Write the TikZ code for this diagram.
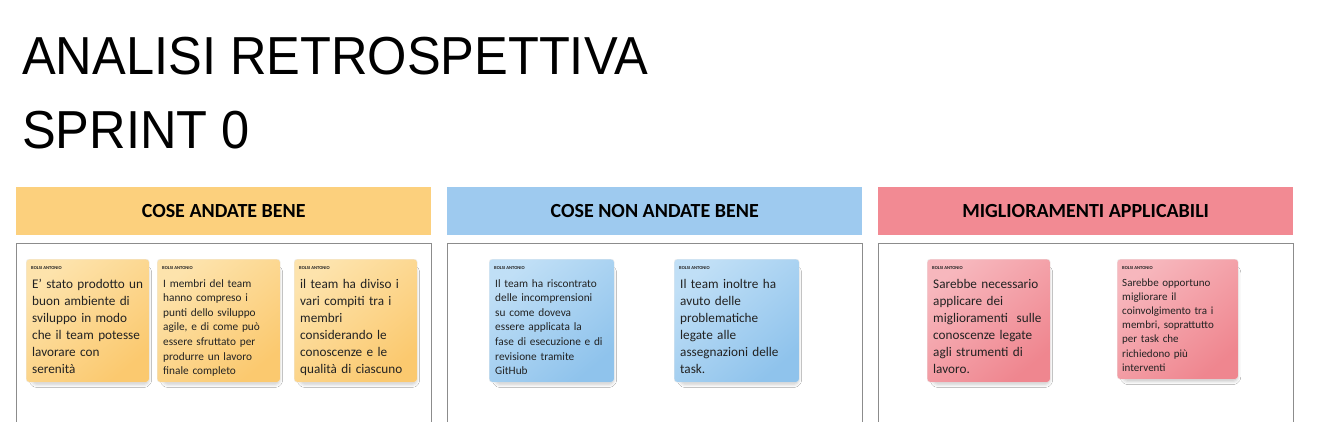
\documentclass[tikz,border=0pt]{standalone}
\usepackage{fontspec}
\setmainfont{Carlito}
\newfontfamily\titlefont{Liberation Sans}
\usetikzlibrary{positioning,shadows.blur}

\definecolor{beneband}{HTML}{FCD07D}
\definecolor{maleband}{HTML}{9ECAEF}
\definecolor{miglband}{HTML}{F28A93}
\definecolor{beneA}{HTML}{FDE3AC}
\definecolor{beneB}{HTML}{FBC96F}
\definecolor{maleA}{HTML}{C0DFF6}
\definecolor{maleB}{HTML}{8FC3EC}
\definecolor{miglA}{HTML}{F7B7BD}
\definecolor{miglB}{HTML}{EF868F}
\definecolor{notetext}{HTML}{222222}

\tikzset{
  titletext/.style={anchor=base west, inner sep=0, xscale=.945, transform shape,
    font=\titlefont\fontsize{53.5}{60}\selectfont},
  band/.style={fill=#1, anchor=north west, minimum width=415pt, minimum height=48pt,
    inner sep=0, font=\bfseries\fontsize{20}{22}\selectfont},
  colbox/.style={draw=black!45, fill=white, line width=.8pt, anchor=north west,
    minimum width=415pt, minimum height=200pt, inner sep=0},
  note/.style 2 args={anchor=north west, rounded corners=3pt, minimum width=123pt,
    minimum height=123pt, inner sep=0, top color=#1, bottom color=#2, shading angle=40,
    draw=black!8, line width=.4pt,
    blur shadow={shadow xshift=3pt, shadow yshift=-6pt, shadow opacity=35,
      shadow blur radius=5pt, shadow scale=.92}},
  author/.style={anchor=base west, inner sep=0, text=notetext,
    font=\bfseries\fontsize{4.6}{5}\selectfont},
  bigtxt/.style={anchor=base west, inner sep=0, align=left, text width=125pt,
    text=notetext, font=\fontsize{13.2}{17}\selectfont},
  smalltxt/.style={anchor=base west, inner sep=0, align=left, text width=125pt,
    text=notetext, font=\fontsize{11.3}{14.6}\selectfont}
}

\begin{document}
\begin{tikzpicture}[x=1pt,y=-1pt]
  \useasboundingbox[fill=white] (0,0) rectangle (1319,421);
  % title
  \node[titletext] (title1) at (22,74) {ANALISI RETROSPETTIVA};
  \node[titletext] (title2) at (22,148) {SPRINT 0};
  % the three columns
  \foreach \x/\name/\txt in {16/bene/COSE ANDATE BENE,
      447/male/COSE NON ANDATE BENE, 878/migl/MIGLIORAMENTI APPLICABILI} {
    \node[band=\name band] (\name-head) at (\x,187) {\txt};
    \node[colbox] (\name-box) at (\x,243) {};
  }
  % sticky notes
  \node[note={beneA}{beneB}] (bene1) at (26,259) {};
  \node[note={beneA}{beneB}] (bene2) at (157,259) {};
  \node[note={beneA}{beneB}] (bene3) at (294,259) {};
  \node[note={maleA}{maleB}, minimum width=125pt] (male1) at (489,259) {};
  \node[note={maleA}{maleB}, minimum width=125pt] (male2) at (674,259) {};
  \node[note={miglA}{miglB}] (migl1) at (927,259) {};
  \node[note={miglA}{miglB}, minimum width=121pt, minimum height=120pt] (migl2) at (1117,259) {};
  \foreach \n in {bene1,bene2,bene3,male1,male2,migl1,migl2}
    \node[author] (\n-author) at ([shift={(5,10)}]\n.north west) {BOLSI ANTONIO};
  % texts of the notes
  \node[bigtxt] (bene1-txt) at ([shift={(6,29)}]bene1.north west)
    {E' stato prodotto un\\buon ambiente di\\sviluppo in modo\\che il team potesse\\lavorare con\\serenità};
  \node[smalltxt] (bene2-txt) at ([shift={(6,28)}]bene2.north west)
    {I membri del team\\hanno compreso i\\punti dello sviluppo\\agile, e di come può\\essere sfruttato per\\produrre un lavoro\\finale completo};
  \node[bigtxt] (bene3-txt) at ([shift={(6,29)}]bene3.north west)
    {il team ha diviso i\\vari compiti tra i\\membri\\considerando le\\conoscenze e le\\qualità di ciascuno};
  \node[smalltxt] (male1-txt) at ([shift={(6,28)}]male1.north west)
    {Il team ha riscontrato\\delle incomprensioni\\su come doveva\\essere applicata la\\fase di esecuzione e di\\revisione tramite\\GitHub};
  \node[bigtxt] (male2-txt) at ([shift={(6,29)}]male2.north west)
    {Il team inoltre ha\\avuto delle\\problematiche\\legate alle\\assegnazioni delle\\task.};
  \node[bigtxt] (migl1-txt) at ([shift={(6,29)}]migl1.north west)
    {Sarebbe necessario\\applicare dei\\miglioramenti\ \ sulle\\conoscenze legate\\agli strumenti di\\lavoro.};
  \node[smalltxt, font=\fontsize{11}{14.2}\selectfont] (migl2-txt) at ([shift={(5,27)}]migl2.north west)
    {Sarebbe opportuno\\migliorare il\\coinvolgimento tra i\\membri, soprattutto\\per task che\\richiedono più\\interventi};
\end{tikzpicture}
\end{document}
